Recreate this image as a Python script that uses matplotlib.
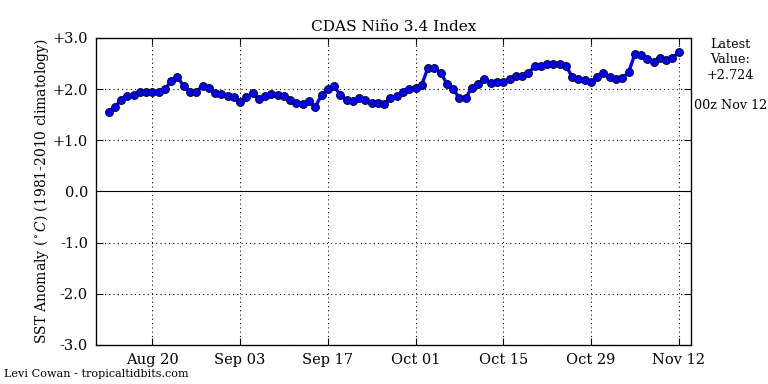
import matplotlib
matplotlib.use("Agg")
import matplotlib.pyplot as plt
import matplotlib.dates as mdates
import numpy as np
import pandas as pd

start_date = "2015-08-13"
values = [
    1.55, 1.66, 1.78, 1.86, 1.89, 1.94, 1.94, 1.94, 1.94, 2.00, 2.16, 2.24, 2.06, 1.94, 1.94, 2.07, 2.02, 1.92, 1.90,
    1.86, 1.84, 1.74, 1.85, 1.92,
    1.81, 1.86, 1.90, 1.88, 1.86, 1.79, 1.72, 1.70, 1.76, 1.66, 1.88, 2.01, 2.06, 1.88, 1.78, 1.76, 1.82, 1.78, 1.72,
    1.72, 1.71, 1.83, 1.86, 1.94, 2.00,
    2.02, 2.09, 2.42, 2.42, 2.32, 2.11, 2.00, 1.83, 1.83, 2.03, 2.11, 2.19, 2.12, 2.14, 2.14, 2.19, 2.26, 2.26, 2.31,
    2.45, 2.45, 2.50,
    2.50,
    2.49, 2.46, 2.24, 2.19, 2.17, 2.13, 2.24, 2.31, 2.24, 2.19, 2.21, 2.33, 2.68, 2.66, 2.58, 2.54, 2.61, 2.56, 2.61,
    2.724,
]
dates = pd.date_range(start_date, periods=len(values), freq="D")
tick_dates = pd.to_datetime(["2015-08-20", "2015-09-03", "2015-09-17", "2015-10-01",
                             "2015-10-15", "2015-10-29", "2015-11-12"])
tick_labels = ["Aug 20", "Sep 03", "Sep 17", "Oct 01", "Oct 15", "Oct 29", "Nov 12"]
y_ticks = [-3, -2, -1, 0, 1, 2, 3]
y_labels = ["-3.0", "-2.0", "-1.0", "0.0", "+1.0", "+2.0", "+3.0"]

plt.rcParams["font.family"] = ["DejaVu Serif"]
plt.rcParams["mathtext.fontset"] = "dejavuserif"

fig = plt.figure(figsize=(8, 4), dpi=96)
ax = fig.add_axes([0.125, 0.1016, 0.775, 0.7995])

ax.axhline(0, color="black", linewidth=0.8, zorder=1)
ax.plot(dates, values, color="blue", linewidth=2.5, marker="o", markersize=6,
        markerfacecolor="blue", markeredgecolor="black", markeredgewidth=0.6, zorder=3)

ax.set_ylim(-3, 3)
ax.set_xlim(pd.Timestamp("2015-08-11"), pd.Timestamp("2015-11-14"))
ax.set_yticks(y_ticks)
ax.set_yticklabels(y_labels, fontsize=11)
ax.set_xticks(tick_dates)
ax.set_xticklabels(tick_labels, fontsize=11)
ax.tick_params(direction="in", top=True, right=True, length=5, pad=6)
ax.grid(True, color="black", linestyle=(0, (1, 3)), linewidth=0.8)
for s in ax.spines.values():
    s.set_linewidth(1.0)

ax.set_title("CDAS Niño 3.4 Index", fontsize=11.5, pad=5)
ax.set_ylabel(r"SST Anomaly ($^\circ C$) (1981-2010 climatology)", fontsize=10.4, labelpad=1)

fig.text(0.951, 0.902, "Latest\nValue:\n+%.3f" % values[-1], ha="center", va="top",
         fontsize=9.6, linespacing=1.25)
fig.text(0.951, 0.725, "00z " + tick_labels[-1], ha="center", va="center", fontsize=9.6)
fig.text(0.005, 0.012, "Levi Cowan - tropicaltidbits.com", ha="left", va="bottom", fontsize=8.4)

fig.savefig("out.png", dpi=96)
